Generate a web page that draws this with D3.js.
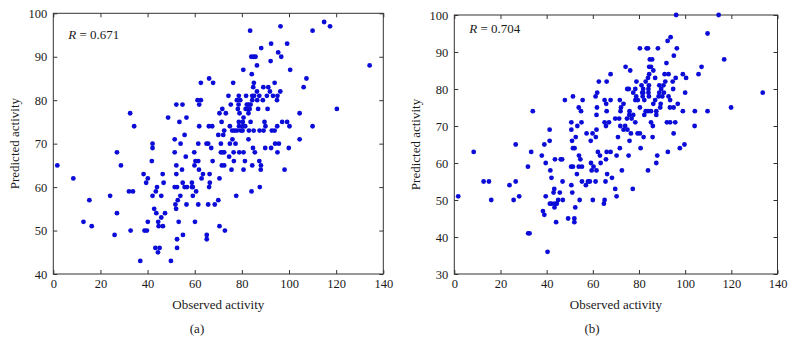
<!DOCTYPE html>
<html>
<head>
<meta charset="utf-8">
<script src="https://cdn.jsdelivr.net/npm/d3@7"></script>
<style>
  body { margin: 0; background: #fff; }
  svg text { font-family: "Liberation Serif", "DejaVu Serif", serif; fill: #1a1a1a; }
</style>
</head>
<body>
<div id="chart"></div>
<script>
// panel (a): observed vs predicted
var obsA = [32.6,34.3,27,42.1,42.1,48.7,52.2,54.8,56.5,53.5,55.7,51.5,54,51.5,56.2,
  1.7,28.7,8.5,24.1,15.3,32.1,33.8,12.8,16.3,27,26,32.8,38.3,40.1,39.4,41.8,44,43.5,42.1,46.4,46.8,45.8,42.8,43.7,47.4,45.8,44.5,44.7,46.5,40.1,38.7,39.7,36.9,43.3,45.1,44.4,49.9,52.2,52.2,54.6,54.9,51.5,52.5,55.7,56.7,53.9,51.8,52.1,52.8,56.5,53.2,52.5,52.5,55,
  83.5,96.4,114.9,117.4,110,92.4,99.2,88.2,95.4,96.7,84,85,85.8,92.2,86.4,80.6,84.2,100.5,134.2,107.4,106.2,66.1,67.8,62.6,76.3,85.1,84.8,93.9,86.4,89.1,91.2,91.9,96.3,61.2,62.6,61.9,74.3,78.7,81.8,84.4,85.2,87.4,90.6,93.2,95.1,77.9,79.3,84.4,86.5,88.9,94.9,75.3,78.6,82.1,82.8,83.7,71.7,78.3,81.6,82.4,83.3,86.9,90.9,120.3,70.5,73.2,79,82.8,104.5,80.7,71.4,78.7,80.4,83.7,89.6,97.1,99.2,61.9,66,67.4,74.9,78.8,80.4,81.4,90,95,100.2,110,72.5,75.9,76.9,77.9,79.6,80.3,83,85,87.5,89.2,92.7,93.9,70,72.1,76,82.8,104.5,61.5,65,65.7,71.1,74.9,77.3,94.1,95.7,67,84.7,89.9,92.4,99.9,59.8,71.1,71.8,72.5,76.5,78.9,80.7,85.5,95.1,74.6,
  60.3,61.5,59.9,61.8,67.6,71.5,72.5,76.6,81.3,84.4,88.1,87.4,75.6,80.7,88,98.1,63.5,62.9,66.3,66.4,66.1,70.5,58.8,58.8,59.2,60.6,59.2,61.5,65.7,68.5,70,77.6,84.1,87.6,60.1,70.5,72.8,65.1,65.1];
var predA = [77,74,68,70,69,76,79,79,76,75,72,71,70,68,67,
  65,65,62,58,57,59,59,52,51,54,49,50,63,62,61,66,60,59,58,63,61,58,55,54,54,53,52,51,51,52,50,50,43,46,46,45,43,65,63,64,61,60,60,60,60,58,56,55,57,56,52,48,46,49,
  96,97,98,97,96,93,93,92,91,90,90,90,90,89,88,87,86,87,88,85,83,85,84,84,84,84,83,84,82,83,83,82,82,80,80,79,81,81,81,81,81,81,81,81,81,80,80,80,80,80,80,79,79,79,79,79,78,78,78,78,78,78,78,78,77,77,77,77,77,76,75,75,75,75,75,75,75,74,74,74,74,74,74,74,74,74,74,74,73,73,73,73,73,73,73,73,73,73,73,73,72,72,71,71,71,70,70,70,70,70,70,70,70,69,69,69,69,69,68,68,68,68,68,68,68,68,68,67,
  66,66,65,64,66,65,65,66,66,65,65,66,64,64,64,64,63,62,63,61,60,62,61,60,60,59,58,56,56,56,57,58,59,60,52,51,50,49,48];

// panel (b)
var obsB = [8.4,26.6,33.3,34,37.9,39,41.3,41.3,47.9,51.4,53.9,54.9,55.6,50.7,50.7,53.3,55.1,52.6,51,51.4,52.1,57.3,59.1,
  96.1,114.5,109.7,93.7,92.4,80.4,83.3,83.9,88.2,96.4,95.1,116.9,84.7,85.7,91.9,84.4,85.2,107.1,74.2,76.2,86.2,67.7,84.4,91.1,92.8,99,105.8,83.9,87,100.4,95.9,62.6,66,78.9,82.9,91.4,94.6,81.1,84.3,88.8,90.6,74.9,75.6,78.4,81.8,84.1,89.6,94.8,61.9,77.5,81.4,81.8,84.1,88.8,90.8,100,133.6,61.2,78.8,81.6,84.3,88.5,90.1,92.8,65.1,67.7,71.7,78.4,79.5,82.3,87,93.5,65.8,73.3,86.2,89.4,96.8,72.2,61.8,80.4,89.2,93.4,95,119.9,66,72,75.9,82.9,83.9,85.2,87.5,99,104.2,109.7,61.6,75.8,77.5,82.3,87.5,74.8,76.8,69.7,71.4,65.1,67,78.4,85.2,92.1,93.5,95.7,65.7,71.9,74,86,104.1,61.6,73.3,75,95,59.9,76.5,79.4,80.4,61.3,70.9,82,85.9,75.9,80.7,71.7,99.7,97.7,62.2,63.1,66,67.7,70.3,75.5,87.9,92.5,65.7,
  1.7,12.7,15,16,23.9,26.6,25.7,28.1,31.9,32,32.6,39.6,38.4,39,39.6,40.4,41.6,42.1,41.4,42.1,43.6,43,43.3,43.4,44.4,44.1,45.7,45,43.6,46.1,46.7,46.9,47,49.3,50.6,51.4,50.7,51.1,52,52,52.4,53.1,54,54.6,53.9,55.3,54.3,55.3,57,57.9,
  59.2,60.3,63.4,59.5,61.6,72.6,83.9,87.5,68.3,66.2,58.7,61.2,65.5,69.7,77.3,70.3,60,65.1,64.8];
var predB = [63,65,63,74,62,65,69,66,77,78,75,74,77,71,69,70,71,67,66,64,64,68,66,
  100,100,95,94,93,91,91,91,91,91,89,88,88,88,87,86,86,86,86,85,85,84,84,84,84,84,84,83,83,83,83,82,82,82,82,82,82,81,81,81,81,80,80,80,80,80,80,80,79,79,79,79,79,79,79,79,79,78,78,78,78,78,78,78,77,77,77,77,77,77,77,77,76,76,76,76,76,75,75,75,75,75,75,75,74,74,74,74,74,74,74,74,74,74,73,73,73,73,73,72,72,72,72,71,71,71,71,71,71,71,70,70,70,70,70,69,69,69,68,68,68,68,68,67,67,67,67,66,64,64,65,64,63,62,63,63,62,62,62,63,61,
  51,55,55,50,54,55,50,51,59,41,41,60,47,46,51,36,58,56,49,49,49,52,53,48,49,44,52,50,61,61,61,55,50,45,59,59,54,52,45,44,48,57,62,61,59,59,50,55,54,55,
  60,59,60,58,58,58,58,60,56,57,55,55,55,53,53,51,50,50,49];

var xTicks = [0, 20, 40, 60, 80, 100, 120, 140];
var yTicksA = [40, 50, 60, 70, 80, 90, 100];
var yTicksB = [30, 40, 50, 60, 70, 80, 90, 100];

var svg = d3.select("#chart").append("svg")
  .attr("width", 794).attr("height", 356);

function drawPanel(p) {
  var x = d3.scaleLinear().domain([0, 140]).range([p.left, p.right]);
  var y = d3.scaleLinear().domain(p.yDomain).range([p.bottom, p.top]);
  var g = svg.append("g");

  // ticks, MATLAB style (pointing inwards on all four sides)
  g.append("g").attr("transform", "translate(0," + p.bottom + ")")
    .call(d3.axisBottom(x).tickValues(xTicks).tickSizeInner(-4).tickSizeOuter(0).tickPadding(5.5));
  g.append("g").attr("transform", "translate(0," + p.top + ")")
    .call(d3.axisTop(x).tickValues(xTicks).tickSizeInner(-4).tickSizeOuter(0).tickFormat(""));
  g.append("g").attr("transform", "translate(" + p.left + ",0)")
    .call(d3.axisLeft(y).tickValues(p.yTicks).tickSizeInner(-4).tickSizeOuter(0).tickPadding(6));
  g.append("g").attr("transform", "translate(" + p.right + ",0)")
    .call(d3.axisRight(y).tickValues(p.yTicks).tickSizeInner(-4).tickSizeOuter(0).tickFormat(""));

  g.selectAll(".domain").remove();
  g.selectAll(".tick line").attr("stroke", "#333");
  g.selectAll(".tick text").style("font-size", "12.5px")
    .style("font-family", "'Liberation Serif', serif").attr("fill", "#1a1a1a");

  g.append("rect")
    .attr("x", p.left).attr("y", p.top)
    .attr("width", p.right - p.left).attr("height", p.bottom - p.top)
    .attr("fill", "none").attr("stroke", "#333").attr("stroke-width", 1);

  g.selectAll(".dot")
    .data(p.obs).enter()
    .append("circle")
      .attr("class", "dot")
      .attr("cx", function(d) { return x(d); })
      .attr("cy", function(d, i) { return y(p.pred[i]); })
      .attr("r", 2.4)
      .style("fill", "#0c0cd8");

  var r = g.append("text")
    .attr("x", p.left + 15).attr("y", p.rY)
    .style("font-size", "13px");
  r.append("tspan").style("font-style", "italic").text("R");
  r.append("tspan").text(" = " + p.r);

  g.append("text")
    .attr("x", (p.left + p.right) / 2).attr("y", 309)
    .attr("text-anchor", "middle").style("font-size", "13px")
    .text("Observed activity");

  g.append("text")
    .attr("transform", "translate(" + (p.left - 34) + "," + ((p.top + p.bottom) / 2) + ") rotate(-90)")
    .attr("text-anchor", "middle").style("font-size", "13px")
    .text("Predicted activity");

  g.append("text")
    .attr("x", p.tagX).attr("y", 333)
    .attr("text-anchor", "middle").style("font-size", "13px")
    .text(p.tag);
}

drawPanel({ obs: obsA, pred: predA, left: 53.3, right: 383.3, top: 13.3, bottom: 274,
  yDomain: [40, 100], yTicks: yTicksA, r: "0.671", rY: 38.5, tag: "(a)", tagX: 197 });
drawPanel({ obs: obsB, pred: predB, left: 454.3, right: 777.5, top: 15, bottom: 274,
  yDomain: [30, 100], yTicks: yTicksB, r: "0.704", rY: 32.5, tag: "(b)", tagX: 592 });
</script>
</body>
</html>
